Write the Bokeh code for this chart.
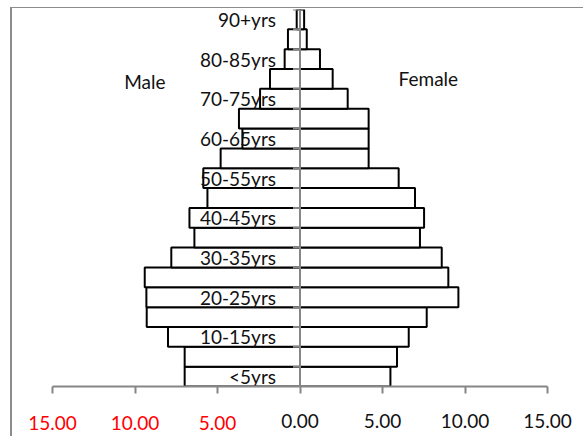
from bokeh.plotting import figure
from bokeh.models import Range1d, FixedTicker, LinearAxis, ColumnDataSource, Span
from bokeh.core.properties import value
from bokeh.embed import file_html
from bokeh.resources import INLINE

# ---- data ----
age_groups = ["<5yrs", "5-10yrs", "10-15yrs", "15-20yrs", "20-25yrs", "25-30yrs",
              "30-35yrs", "35-40yrs", "40-45yrs", "45-50yrs", "50-55yrs", "55-60yrs",
              "60-65yrs", "65-70yrs", "70-75yrs", "75-80yrs", "80-85yrs", "85-90yrs",
              "90+yrs"]
male = [6.99, 6.99, 8.00, 9.29, 9.31, 9.41, 7.80, 6.40, 6.70, 5.61, 5.86, 4.81,
        3.49, 3.70, 2.42, 1.82, 0.93, 0.73, 0.20]
female = [5.48, 5.88, 6.59, 7.68, 9.60, 8.99, 8.59, 7.27, 7.52, 6.97, 5.98, 4.16,
          4.16, 4.16, 2.89, 1.98, 1.21, 0.41, 0.25]
tick_values = [-15, -10, -5, 0, 5, 10, 15]
tick_labels = ["15.00", "10.00", "5.00", "0.00", "5.00", "10.00", "15.00"]
series_names = ["Male", "Female"]

FONT = "Lato"
GREY = "#868686"
FW, FH = 495, 377
n = len(age_groups)

p = figure(frame_width=FW, frame_height=FH, output_backend="svg", toolbar_location=None,
           x_range=Range1d(tick_values[0], tick_values[-1]),
           y_range=Range1d(0, n), y_axis_location=None,
           min_border_left=40, min_border_right=36, min_border_top=1,
           min_border_bottom=50, tools="")
p.outline_line_color = None
p.xgrid.visible = False
p.ygrid.visible = False
p.background_fill_color = "white"
p.border_fill_color = "white"
p.styles = {"border-left": "2px solid #8c8c8c", "border-top": "1px solid #8c8c8c",
            "margin-left": "10px", "margin-top": "7px"}

ys = [i + 0.5 for i in range(n)]
src = ColumnDataSource(dict(y=ys, male=[-v for v in male], female=female,
                            zero=[0] * n))
p.hbar(y="y", left="male", right="zero", height=1, source=src,
       fill_color="white", line_color="black", line_width=2)
p.hbar(y="y", left="zero", right="female", height=1, source=src,
       fill_color="white", line_color="black", line_width=2)

# vertical axis line at zero with its tick marks
p.add_layout(Span(location=0, dimension="height", line_color=GREY, line_width=2))
px_per_unit = FW / (tick_values[-1] - tick_values[0])
tick_len = 7 / px_per_unit
p.segment(x0=[-tick_len] * (n + 1), x1=[0] * (n + 1),
          y0=list(range(n + 1)), y1=list(range(n + 1)),
          line_color=GREY, line_width=2)

# category labels (every other)
lab_idx = list(range(0, n, 2))
p.text(x=[0] * len(lab_idx), y=[ys[i] for i in lab_idx],
       text=[age_groups[i] for i in lab_idx],
       x_offset=-24, text_align="right", text_baseline="middle",
       text_font=value(FONT), text_font_size="19px", text_color="#111111")

# series labels
p.text(x=[-9.4, 7.78], y=[15.36, 15.5], text=series_names,
       text_align="center", text_baseline="middle",
       text_font=value(FONT), text_font_size="19px", text_color="#111111")

# x axis: line, ticks and black labels for the female (positive) side
ax = p.xaxis[0]
ax.ticker = FixedTicker(ticks=tick_values)
ax.major_label_overrides = {v: (l if v >= 0 else "") for v, l in zip(tick_values, tick_labels)}
ax.axis_line_color = GREY
ax.axis_line_width = 2
ax.major_tick_line_color = GREY
ax.major_tick_line_width = 2
ax.major_tick_out = 7
ax.major_tick_in = 0
ax.minor_tick_line_color = None
ax.major_label_standoff = 20
ax.major_label_text_font = FONT
ax.major_label_text_font_size = "19px"
ax.major_label_text_color = "#111111"

# second axis carrying the red labels of the male (negative) side
ax2 = LinearAxis(ticker=FixedTicker(ticks=tick_values),
                 major_label_overrides={v: (l if v < 0 else "") for v, l in zip(tick_values, tick_labels)},
                 axis_line_color=None, major_tick_line_color=None,
                 minor_tick_line_color=None, major_tick_out=0, major_tick_in=0,
                 major_label_standoff=-15, major_label_text_font=FONT,
                 major_label_text_font_size="19px", major_label_text_color="#ff0000")
p.add_layout(ax2, "below")

open("out.html", "w").write(file_html(p, INLINE))
